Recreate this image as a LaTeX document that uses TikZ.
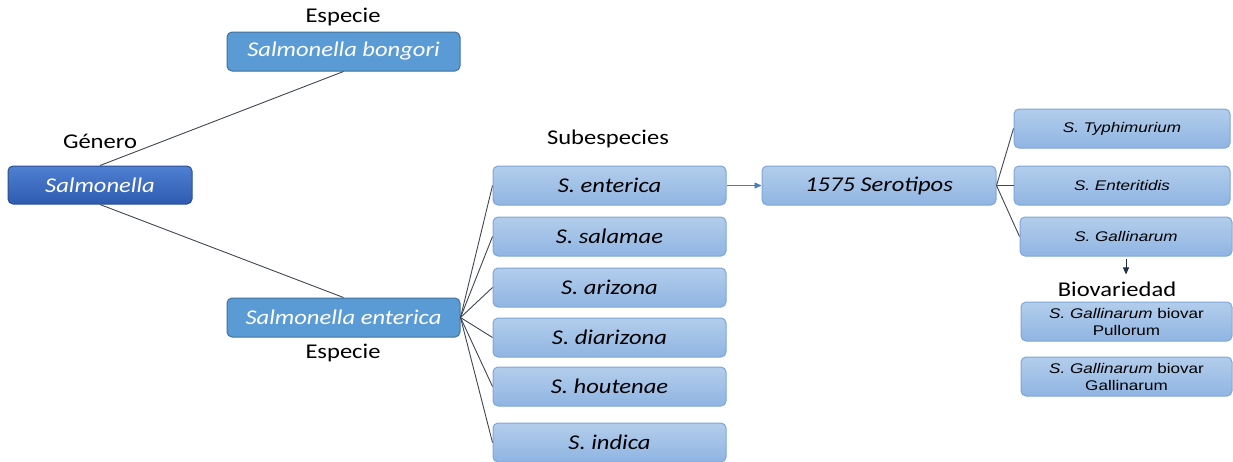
\documentclass[tikz,border=0pt]{standalone}
\usepackage{fontspec}
\setmainfont[FakeStretch=1.17]{Carlito}
\newfontfamily\arialf[FakeStretch=1.22]{Liberation Sans}
\usetikzlibrary{arrows.meta}
\definecolor{darkA}{HTML}{4F80D2}
\definecolor{darkB}{HTML}{2E5BB0}
\definecolor{darkE}{HTML}{2B4F92}
\definecolor{medF}{HTML}{5B9BD5}
\definecolor{medE}{HTML}{41719C}
\definecolor{lightA}{HTML}{B3CDEC}
\definecolor{lightB}{HTML}{8FB5E2}
\definecolor{lightE}{HTML}{7FA6D6}
\definecolor{conn}{HTML}{404652}
\definecolor{bluearrow}{HTML}{4A7EBB}
\definecolor{navy}{HTML}{1F2D4D}
\tikzset{
  bigfont/.style={font=\fontsize{21}{25}\selectfont},
  genbox/.style={rounded corners=5pt, draw=darkE, line width=1pt, top color=darkA, bottom color=darkB,
     text=white, bigfont, minimum width=184pt, minimum height=38pt, inner sep=0pt},
  spbox/.style={rounded corners=5pt, draw=medE, line width=1pt, fill=medF,
     text=white, bigfont, minimum width=233pt, minimum height=39pt, inner sep=0pt},
  subbox/.style={rounded corners=5pt, draw=lightE, line width=1pt, top color=lightA, bottom color=lightB,
     text=black, bigfont, minimum width=233pt, minimum height=39pt, inner sep=0pt},
  serbox/.style={rounded corners=5pt, draw=lightE, line width=1pt, top color=lightA, bottom color=lightB,
     text=black, font=\arialf\fontsize{14}{17}\selectfont, minimum height=39pt, inner sep=0pt, align=center},
  lbl/.style={bigfont, text=black, inner sep=0pt},
  conline/.style={draw=conn, line width=0.9pt},
}
\begin{document}
\begin{tikzpicture}[x=1pt,y=-1pt]
\useasboundingbox (0,0) rectangle (1233,461);
\fill[white] (0,0) rectangle (1233,461);
% labels
\node[lbl] (lesp1) at (343,17) {Especie};
\node[lbl] (lgen) at (100,141) {Género};
\node[lbl] (lesp2) at (343,353) {Especie};
\node[lbl] (lsub) at (608,139) {Subespecies};
\node[lbl] (biov) at (1117,289) {Biovariedad};
% boxes
\node[genbox] (sal) at (100,185) {\itshape Salmonella};
\node[spbox] (bon) at (343.5,51.5) {\itshape Salmonella bongori};
\node[spbox] (ent) at (343.5,317.5) {\itshape Salmonella enterica};
\node[subbox] (s1) at (609.5,185.5) {\itshape S. enterica};
\node[subbox] (s2) at (609.5,236.5) {\itshape S. salamae};
\node[subbox] (s3) at (609.5,287.5) {\itshape S. arizona};
\node[subbox] (s4) at (609.5,337.5) {\itshape S. diarizona};
\node[subbox] (s5) at (609.5,386.5) {\itshape S. houtenae};
\node[subbox] (s6) at (609.5,442.5) {\itshape S. indica};
\node[subbox, minimum width=234pt] (sero) at (879,185.5) {\itshape 1575 Serotipos};
\node[serbox, minimum width=216pt] (typ) at (1122,128.5) {\itshape S. Typhimurium};
\node[serbox, minimum width=216pt] (entd) at (1122,185.5) {\itshape S. Enteritidis};
\node[serbox, minimum width=212pt] (gal) at (1126,236.5) {\itshape S. Gallinarum};
\node[serbox, minimum width=211pt] (pul) at (1126.5,321.5) {\textit{S. Gallinarum} biovar\\Pullorum};
\node[serbox, minimum width=211pt] (galg) at (1126.5,376.5) {\textit{S. Gallinarum} biovar\\Gallinarum};
% connectors
\draw[conline] (sal.north) -- (bon.south);
\draw[conline] (sal.south) -- (ent.north);
\foreach \s in {s1,s2,s3,s4,s5,s6} \draw[conline] (ent.east) -- (\s.west);
\draw[draw=bluearrow, line width=0.9pt, -{Triangle[length=7pt,width=6pt]}] (s1.east) -- (sero.west);
\draw[conline] (sero.east) -- (typ.west);
\draw[conline] (sero.east) -- (entd.west);
\draw[conline] (sero.east) -- (gal.west);
\draw[draw=navy, line width=0.9pt, -{Triangle[length=7pt,width=6pt]}, shorten <=2pt, shorten >=7pt] (gal.south) -- (gal.south |- biov.north);
\end{tikzpicture}
\end{document}
